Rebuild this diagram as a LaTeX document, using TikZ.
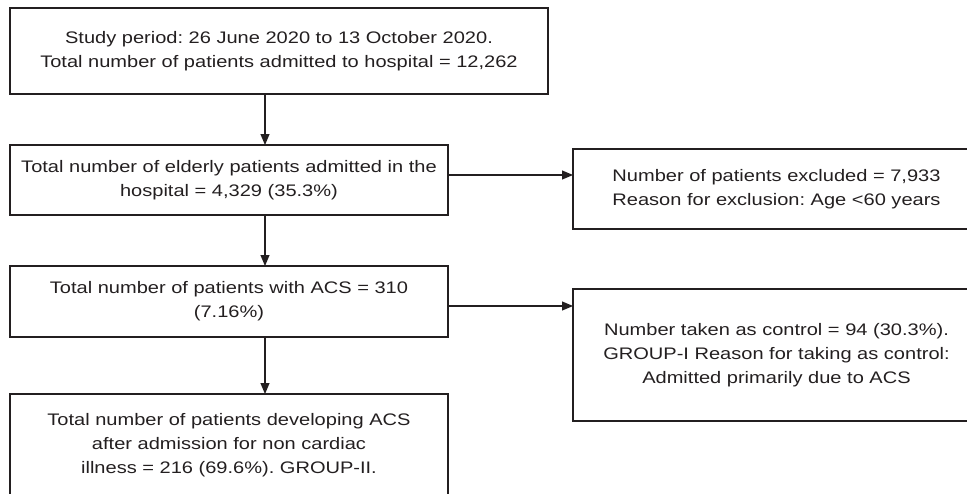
\documentclass[tikz,border=0pt]{standalone}
\usepackage{fontspec}
\setmainfont{Liberation Sans}[FakeStretch=1.2]
\usetikzlibrary{arrows.meta}
\definecolor{ink}{HTML}{231F20}
\frenchspacing
\tikzset{
  flowbox/.style={draw=ink,line width=1.1pt,inner sep=0pt,outer sep=0pt,
    align=center,text=ink,font=\fontsize{16.7}{24}\selectfont},
  flowarr/.style={draw=ink,line width=1.1pt,-{Triangle[length=11pt,width=9pt]}}
}
\begin{document}
\begin{tikzpicture}[x=1pt,y=1pt]
  \useasboundingbox (0,0) rectangle (967,-493);
  \node[flowbox,minimum width=538pt,minimum height=86pt] (study) at (279,-51)
    {Study period: 26 June 2020 to 13 October 2020.\\Total number of patients admitted to hospital = 12,262};
  \node[flowbox,minimum width=438pt,minimum height=70pt] (elderly) at (229,-180)
    {Total number of elderly patients admitted in the\\hospital = 4,329 (35.3\%)};
  \node[flowbox,minimum width=407pt,minimum height=80pt] (excluded) at (776.5,-189)
    {Number of patients excluded = 7,933\\Reason for exclusion: Age <60 years};
  \node[flowbox,minimum width=438pt,minimum height=71pt] (acs) at (229,-301.5)
    {Total number of patients with ACS = 310\\(7.16\%)};
  \node[flowbox,minimum width=407pt,minimum height=132pt] (control) at (776.5,-355)
    {Number taken as control = 94 (30.3\%).\\GROUP-I Reason for taking as control:\\Admitted primarily due to ACS};
  \node[flowbox,minimum width=438pt,minimum height=102pt] (developing) at (229,-445)
    {Total number of patients developing ACS\\after admission for non cardiac\\illness = 216 (69.6\%). GROUP-II.};
  \draw[flowarr] ([xshift=255pt]study.south west) -- ([xshift=255pt]elderly.north west);
  \draw[flowarr] ([xshift=255pt]elderly.south west) -- ([xshift=255pt]acs.north west);
  \draw[flowarr] ([xshift=255pt]acs.south west) -- ([xshift=255pt]developing.north west);
  \draw[flowarr] ([yshift=5pt]elderly.east) -- ([yshift=5pt]elderly.east -| excluded.west);
  \draw[flowarr] ([yshift=-4.5pt]acs.east) -- ([yshift=-4.5pt]acs.east -| control.west);
\end{tikzpicture}
\end{document}
